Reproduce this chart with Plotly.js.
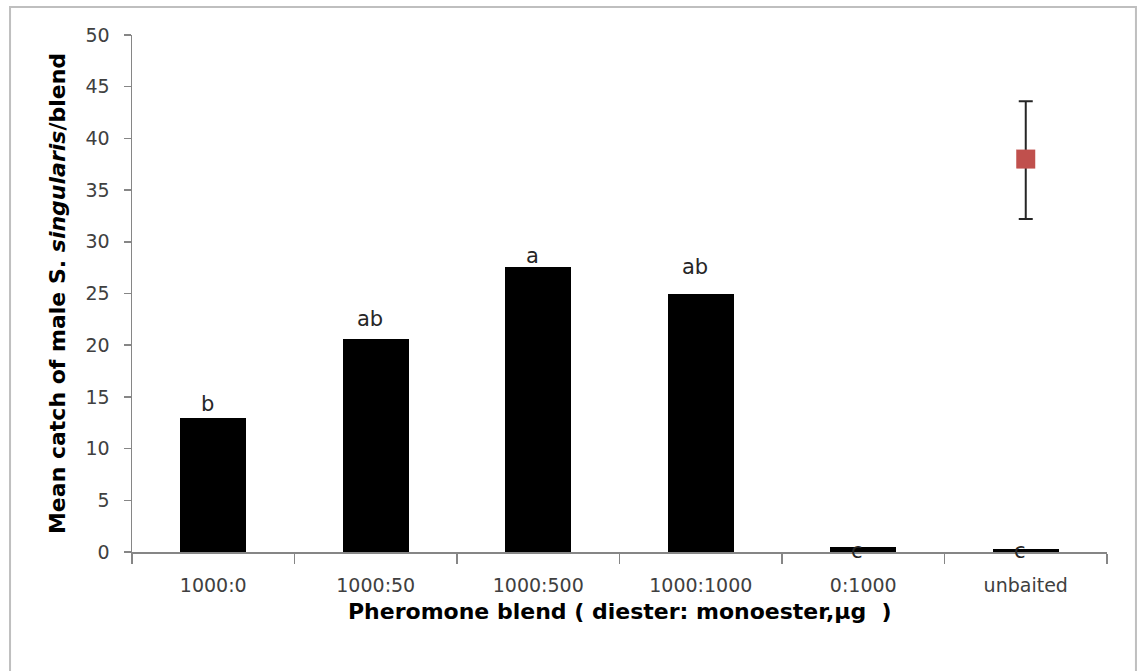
<!DOCTYPE html>
<html>
<head>
<meta charset="utf-8">
<script src="https://cdn.plot.ly/plotly-3.0.1.min.js"></script>
<style>html,body{margin:0;padding:0;background:#fff;}#chart{width:1139px;height:671px;}</style>
</head>
<body>
<div id="chart"></div>
<script>
// Data
const categories = ["1000:0", "1000:50", "1000:500", "1000:1000", "0:1000", "unbaited"];
const meanCatch = [13.0, 20.6, 27.6, 25.0, 0.45, 0.3];
const sigLetters = ["b", "ab", "a", "ab", "c", "c"];
const letterHeight = [13.5, 21.8, 27.9, 26.8, 0, 0];
const pointCategory = ["unbaited"];
const pointValue = [38.0];
const pointErrPlus = [5.6];
const pointErrMinus = [5.8];
const xTitle = "Pheromone blend ( diester: monoester,μg  )";

const bars = {
  type: "bar",
  x: categories,
  y: meanCatch,
  width: 0.406,
  marker: {color: "#000000", line: {color: "#000000", width: 0}},
  hoverinfo: "x+y",
  showlegend: false
};

const point = {
  type: "scatter",
  mode: "markers",
  x: pointCategory,
  y: pointValue,
  marker: {symbol: "square", size: 19, color: "#C0504D"},
  error_y: {type: "data", symmetric: false, array: pointErrPlus, arrayminus: pointErrMinus,
            color: "#262626", thickness: 2, width: 7},
  showlegend: false
};

const annotations = categories.map((c, i) => {
  const low = letterHeight[i] <= 0;
  return {
    x: c, y: letterHeight[i], xref: "x", yref: "y",
    text: sigLetters[i], showarrow: false,
    xanchor: "center", yanchor: low ? "top" : "bottom",
    xshift: -6, yshift: low ? 15 : -6,
    font: {family: "DejaVu Sans, Arial, sans-serif", size: 21, color: "#262626"}
  };
});
annotations.push({
  x: 0.5, y: -0.1147, xref: "paper", yref: "paper",
  text: "<b>" + xTitle + "</b>", showarrow: false,
  xanchor: "center", yanchor: "middle",
  font: {family: "DejaVu Sans, Arial, sans-serif", size: 22, color: "#000000"}
});

const layout = {
  width: 1139, height: 671,
  margin: {l: 132, r: 32, t: 35, b: 119, pad: 0},
  paper_bgcolor: "#ffffff", plot_bgcolor: "#ffffff",
  bargap: 0,
  xaxis: {
    type: "category",
    range: [-0.5, 5.5],
    showline: true, linecolor: "#868686", linewidth: 1.5,
    ticks: "outside", tickson: "boundaries", ticklen: 10, tickcolor: "#868686", tickwidth: 1.5,
    ticklabelstandoff: 16,
    showgrid: false, zeroline: false,
    tickfont: {family: "DejaVu Sans, Arial, sans-serif", size: 19, color: "#404040"}
  },
  yaxis: {
    range: [0, 50], dtick: 5,
    showline: true, linecolor: "#868686", linewidth: 1.5,
    ticks: "outside", ticklen: 7, tickcolor: "#868686", tickwidth: 1.5,
    ticklabelstandoff: 10,
    showgrid: false, zeroline: false,
    tickfont: {family: "DejaVu Sans, Arial, sans-serif", size: 19, color: "#404040"},
    title: {text: "<b>Mean catch of male S. <i>singularis</i>/blend</b>", standoff: 14,
            font: {family: "DejaVu Sans, Arial, sans-serif", size: 22, color: "#000000"}}
  },
  annotations: annotations,
  shapes: [{
    type: "rect", xref: "paper", yref: "paper",
    x0: -0.1251, x1: 1.0297, y0: -0.3, y1: 1.0544,
    line: {color: "#bfbfbf", width: 2}, fillcolor: "rgba(0,0,0,0)", layer: "below"
  }]
};

Plotly.newPlot("chart", [bars, point], layout, {displayModeBar: false, staticPlot: true});
</script>
</body>
</html>
